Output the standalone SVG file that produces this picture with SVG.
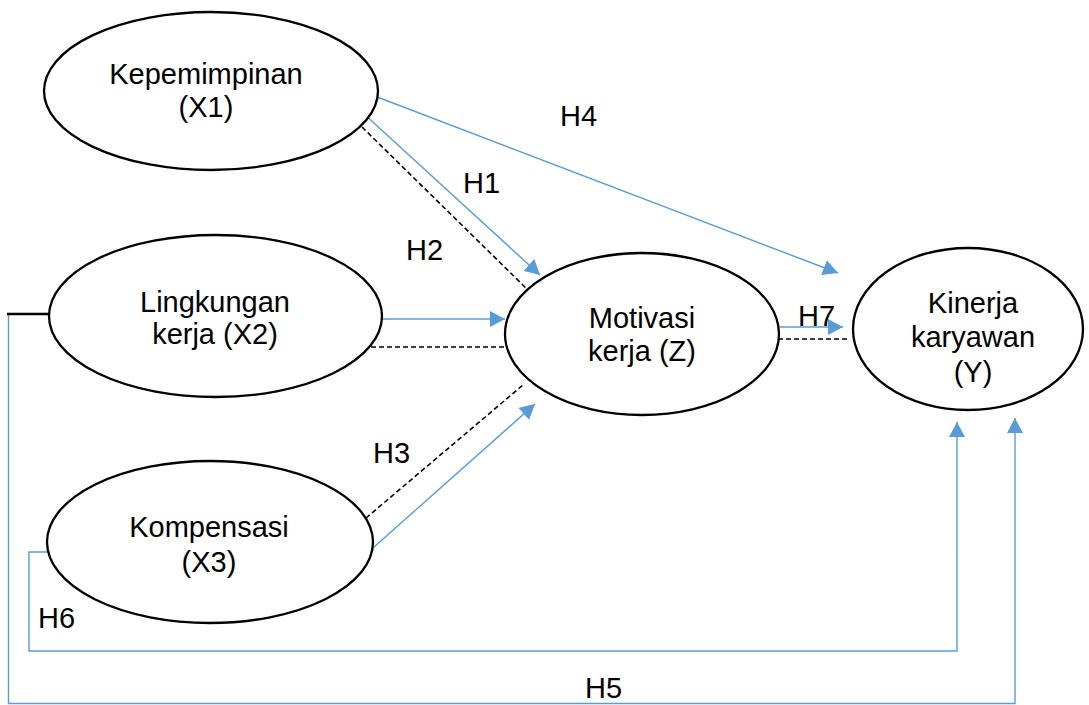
<svg xmlns="http://www.w3.org/2000/svg" width="1089" height="705" viewBox="0 0 1089 705">
<style>
.node{fill:#fff;stroke:#000;stroke-width:2.3}
.lbl{font-family:"Liberation Sans",Arial,sans-serif;font-size:29px;fill:#000;text-anchor:middle}
.hl{font-family:"Liberation Sans",Arial,sans-serif;font-size:29px;fill:#000}
.blue{fill:none;stroke:#5B9BD5;stroke-width:1.4}
.dash{fill:none;stroke:#000;stroke-width:1.6;stroke-dasharray:5 3}
</style>
<defs>
<marker id="arr" markerUnits="userSpaceOnUse" markerWidth="16" markerHeight="16" refX="15" refY="8" orient="auto">
<path d="M0,0 L15,8 L0,16 z" fill="#5B9BD5"/>
</marker>
</defs>
<rect width="1089" height="705" fill="#fff"/>
<g id="connectors">
<line class="blue" x1="372" y1="95" x2="838" y2="273" marker-end="url(#arr)"/>
<line class="blue" x1="363" y1="113" x2="540" y2="275" marker-end="url(#arr)"/>
<line class="dash" x1="362" y1="127" x2="530" y2="292"/>
<line class="blue" x1="380" y1="319" x2="505" y2="319" marker-end="url(#arr)"/>
<line class="dash" x1="371" y1="347" x2="514" y2="347"/>
<line class="dash" x1="366" y1="518" x2="523" y2="385"/>
<line class="blue" x1="365" y1="555" x2="535" y2="404" marker-end="url(#arr)"/>
<line class="blue" x1="780" y1="327" x2="843" y2="327" marker-end="url(#arr)"/>
<line class="dash" x1="778" y1="339" x2="848" y2="339"/>
<polyline class="blue" points="48,552 29,552 29,651 957,651 957,422" marker-end="url(#arr)"/>
<polyline class="blue" points="8.5,315 8.5,703.5 1015,703.5 1015,418" marker-end="url(#arr)"/>
<line x1="7" y1="314" x2="57" y2="314" stroke="#000" stroke-width="2.5"/>
</g>
<g id="X1">
<ellipse class="node" cx="211" cy="91" rx="167" ry="79"/>
<text class="lbl" x="206" y="84">Kepemimpinan</text>
<text class="lbl" x="206" y="117">(X1)</text>
</g>
<g id="X2">
<ellipse class="node" cx="215.5" cy="316" rx="166.5" ry="81"/>
<text class="lbl" x="215" y="312">Lingkungan</text>
<text class="lbl" x="215" y="344">kerja (X2)</text>
</g>
<g id="X3">
<ellipse class="node" cx="210" cy="542" rx="163" ry="81"/>
<text class="lbl" x="209" y="537">Kompensasi</text>
<text class="lbl" x="209" y="572">(X3)</text>
</g>
<g id="Z">
<ellipse class="node" cx="642" cy="334" rx="137" ry="81"/>
<text class="lbl" x="642" y="328">Motivasi</text>
<text class="lbl" x="642" y="361">kerja (Z)</text>
</g>
<g id="Y">
<ellipse class="node" cx="968" cy="329" rx="115" ry="81"/>
<text class="lbl" x="973" y="313">Kinerja</text>
<text class="lbl" x="973" y="347">karyawan</text>
<text class="lbl" x="973" y="382">(Y)</text>
</g>
<g id="labels">
<text class="hl" x="560" y="126">H4</text>
<text class="hl" x="463" y="193">H1</text>
<text class="hl" x="406" y="260">H2</text>
<text class="hl" x="373" y="463">H3</text>
<text class="hl" x="798" y="326">H7</text>
<text class="hl" x="38" y="628">H6</text>
<text class="hl" x="585" y="698">H5</text>
</g>
</svg>
